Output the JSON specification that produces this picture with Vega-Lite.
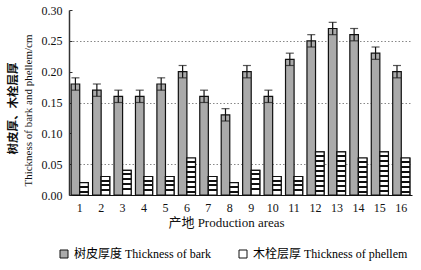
{
  "$schema": "https://vega.github.io/schema/vega-lite/v6.json",
  "width": 343,
  "height": 185,
  "autosize": {"type": "none"},
  "padding": {"left": 69, "top": 10, "right": 9, "bottom": 75},
  "background": "white",
  "config": {
    "font": "Liberation Serif, Noto Sans CJK SC",
    "view": {"stroke": null},
    "axis": {"labelColor": "#111", "titleColor": "#111", "titleFontWeight": "normal"}
  },
  "resolve": {"axis": {"y": "independent"}},
  "data": {
    "values": [
      {"area": "1", "bark": 0.18, "phellem": 0.02, "lo": 0.17, "hi": 0.19},
      {"area": "2", "bark": 0.17, "phellem": 0.03, "lo": 0.16, "hi": 0.18},
      {"area": "3", "bark": 0.16, "phellem": 0.04, "lo": 0.15, "hi": 0.17},
      {"area": "4", "bark": 0.16, "phellem": 0.03, "lo": 0.15, "hi": 0.17},
      {"area": "5", "bark": 0.18, "phellem": 0.03, "lo": 0.17, "hi": 0.19},
      {"area": "6", "bark": 0.20, "phellem": 0.06, "lo": 0.19, "hi": 0.21},
      {"area": "7", "bark": 0.16, "phellem": 0.03, "lo": 0.15, "hi": 0.17},
      {"area": "8", "bark": 0.13, "phellem": 0.02, "lo": 0.12, "hi": 0.14},
      {"area": "9", "bark": 0.20, "phellem": 0.04, "lo": 0.19, "hi": 0.21},
      {"area": "10", "bark": 0.16, "phellem": 0.03, "lo": 0.15, "hi": 0.17},
      {"area": "11", "bark": 0.22, "phellem": 0.03, "lo": 0.21, "hi": 0.23},
      {"area": "12", "bark": 0.25, "phellem": 0.07, "lo": 0.24, "hi": 0.26},
      {"area": "13", "bark": 0.27, "phellem": 0.07, "lo": 0.26, "hi": 0.28},
      {"area": "14", "bark": 0.26, "phellem": 0.06, "lo": 0.25, "hi": 0.27},
      {"area": "15", "bark": 0.23, "phellem": 0.07, "lo": 0.22, "hi": 0.24},
      {"area": "16", "bark": 0.20, "phellem": 0.06, "lo": 0.19, "hi": 0.21}
    ]
  },
  "encoding": {
    "x": {
      "field": "area",
      "type": "ordinal",
      "sort": null,
      "scale": {"paddingInner": 0.2, "paddingOuter": 0.1},
      "axis": {
        "labelAngle": 0,
        "ticks": false,
        "domainColor": "#111",
        "domainWidth": 1.2,
        "labelFontSize": 12,
        "labelPadding": 7,
        "title": "产地  Production areas",
        "titleFontSize": 13,
        "titlePadding": 3,
        "titleX": 157
      }
    }
  },
  "layer": [
    {
      "mark": {"type": "bar", "stroke": "#111", "strokeWidth": 1.2},
      "encoding": {
        "xOffset": {"datum": "bark", "type": "nominal", "scale": {"domain": ["bark", "phellem"]}},
        "y": {
          "field": "bark",
          "type": "quantitative",
          "scale": {"domain": [0, 0.3]},
          "axis": {
            "orient": "left",
            "values": [0, 0.05, 0.1, 0.15, 0.2, 0.25, 0.3],
            "format": ".2f",
            "labelFontSize": 12,
            "labelOverlap": false,
            "tickSize": -3,
            "tickColor": "#333",
            "labelPadding": 10,
            "domainColor": "#333",
            "domainWidth": 1.5,
            "grid": true,
            "gridColor": "#888",
            "gridDash": [1.5, 2],
            "gridOpacity": {"condition": {"test": "round(datum.value*100) % 10 == 5", "value": 1}, "value": 0},
            "title": "Thickness of bark and phellem/cm",
            "titleFontSize": 11,
            "titlePadding": 8,
            "titleY": 100
          }
        },
        "fill": {
          "datum": "树皮厚度 Thickness of bark",
          "type": "nominal",
          "scale": {"domain": ["树皮厚度 Thickness of bark", "木栓层厚 Thickness of phellem"], "range": ["#aaaaaa", "#ffffff"]},
          "legend": {
            "orient": "none",
            "legendX": -11,
            "legendY": 238,
            "direction": "horizontal",
            "title": null,
            "padding": 0,
            "symbolType": "square",
            "symbolSize": 64,
            "symbolStrokeColor": "#111",
            "symbolStrokeWidth": 1,
            "labelFontSize": 12,
            "labelOffset": 4,
            "columnPadding": 26,
            "labelLimit": 300,
            "encode": {
              "symbols": {
                "update": {
                  "fill": [
                    {"test": "indexof(datum.value, 'phellem') >= 0", "value": {"gradient": "linear", "x1": 0, "y1": 0, "x2": 0, "y2": 1, "stops": [
                      {"offset": 0, "color": "#111"}, {"offset": 0.3, "color": "#111"}, {"offset": 0.3, "color": "#fff"}, {"offset": 0.42, "color": "#fff"},
                      {"offset": 0.42, "color": "#111"}, {"offset": 0.6, "color": "#111"}, {"offset": 0.6, "color": "#fff"}, {"offset": 0.72, "color": "#fff"},
                      {"offset": 0.72, "color": "#111"}, {"offset": 1, "color": "#111"}]}},
                    {"value": "#aaaaaa"}
                  ],
                  "stroke": {"value": "#111"}
                }
              }
            }
          }
        }
      }
    },
    {
      "mark": {"type": "bar", "stroke": "#111", "strokeWidth": 1.2},
      "encoding": {
        "xOffset": {"datum": "phellem", "type": "nominal"},
        "y": {"field": "phellem", "type": "quantitative", "axis": null},
        "fill": {"datum": "木栓层厚 Thickness of phellem", "type": "nominal"}
      }
    },
    {
      "mark": {"type": "bar", "stroke": "#111", "strokeWidth": 1.2},
      "encoding": {
        "xOffset": {"datum": "phellem", "type": "nominal"},
        "y": {"field": "phellem", "type": "quantitative", "axis": null},
        "fill": {
          "condition": [
            {"test": "datum.phellem < 0.025", "value": {"gradient": "linear", "x1": 0, "y1": 0, "x2": 0, "y2": 1, "stops": [
              {"offset": 0, "color": "#fff"}, {"offset": 0.2439, "color": "#fff"}, {"offset": 0.2439, "color": "#111"}, {"offset": 0.4065, "color": "#111"},
              {"offset": 0.4065, "color": "#fff"}, {"offset": 0.6504, "color": "#fff"}, {"offset": 0.6504, "color": "#111"}, {"offset": 0.813, "color": "#111"},
              {"offset": 0.813, "color": "#fff"}, {"offset": 1, "color": "#fff"}]}},
            {"test": "datum.phellem < 0.035", "value": {"gradient": "linear", "x1": 0, "y1": 0, "x2": 0, "y2": 1, "stops": [
              {"offset": 0, "color": "#fff"}, {"offset": 0.1622, "color": "#fff"}, {"offset": 0.1622, "color": "#111"}, {"offset": 0.2703, "color": "#111"},
              {"offset": 0.2703, "color": "#fff"}, {"offset": 0.4324, "color": "#fff"}, {"offset": 0.4324, "color": "#111"}, {"offset": 0.5405, "color": "#111"},
              {"offset": 0.5405, "color": "#fff"}, {"offset": 0.7027, "color": "#fff"}, {"offset": 0.7027, "color": "#111"}, {"offset": 0.8108, "color": "#111"},
              {"offset": 0.8108, "color": "#fff"}, {"offset": 1, "color": "#fff"}]}},
            {"test": "datum.phellem < 0.05", "value": {"gradient": "linear", "x1": 0, "y1": 0, "x2": 0, "y2": 1, "stops": [
              {"offset": 0, "color": "#fff"}, {"offset": 0.1216, "color": "#fff"}, {"offset": 0.1216, "color": "#111"}, {"offset": 0.2027, "color": "#111"},
              {"offset": 0.2027, "color": "#fff"}, {"offset": 0.3243, "color": "#fff"}, {"offset": 0.3243, "color": "#111"}, {"offset": 0.4054, "color": "#111"},
              {"offset": 0.4054, "color": "#fff"}, {"offset": 0.527, "color": "#fff"}, {"offset": 0.527, "color": "#111"}, {"offset": 0.6081, "color": "#111"},
              {"offset": 0.6081, "color": "#fff"}, {"offset": 0.7297, "color": "#fff"}, {"offset": 0.7297, "color": "#111"}, {"offset": 0.8108, "color": "#111"},
              {"offset": 0.8108, "color": "#fff"}, {"offset": 1, "color": "#fff"}]}},
            {"test": "datum.phellem < 0.065", "value": {"gradient": "linear", "x1": 0, "y1": 0, "x2": 0, "y2": 1, "stops": [
              {"offset": 0, "color": "#fff"}, {"offset": 0.0811, "color": "#fff"}, {"offset": 0.0811, "color": "#111"}, {"offset": 0.1351, "color": "#111"},
              {"offset": 0.1351, "color": "#fff"}, {"offset": 0.2162, "color": "#fff"}, {"offset": 0.2162, "color": "#111"}, {"offset": 0.2703, "color": "#111"},
              {"offset": 0.2703, "color": "#fff"}, {"offset": 0.3514, "color": "#fff"}, {"offset": 0.3514, "color": "#111"}, {"offset": 0.4054, "color": "#111"},
              {"offset": 0.4054, "color": "#fff"}, {"offset": 0.4865, "color": "#fff"}, {"offset": 0.4865, "color": "#111"}, {"offset": 0.5405, "color": "#111"},
              {"offset": 0.5405, "color": "#fff"}, {"offset": 0.6216, "color": "#fff"}, {"offset": 0.6216, "color": "#111"}, {"offset": 0.6757, "color": "#111"},
              {"offset": 0.6757, "color": "#fff"}, {"offset": 0.7568, "color": "#fff"}, {"offset": 0.7568, "color": "#111"}, {"offset": 0.8108, "color": "#111"},
              {"offset": 0.8108, "color": "#fff"}, {"offset": 0.8919, "color": "#fff"}, {"offset": 0.8919, "color": "#111"}, {"offset": 0.9459, "color": "#111"},
              {"offset": 0.9459, "color": "#fff"}, {"offset": 1, "color": "#fff"}]}}
          ],
          "value": {"gradient": "linear", "x1": 0, "y1": 0, "x2": 0, "y2": 1, "stops": [
            {"offset": 0, "color": "#fff"}, {"offset": 0.0695, "color": "#fff"}, {"offset": 0.0695, "color": "#111"}, {"offset": 0.1158, "color": "#111"},
            {"offset": 0.1158, "color": "#fff"}, {"offset": 0.1853, "color": "#fff"}, {"offset": 0.1853, "color": "#111"}, {"offset": 0.2316, "color": "#111"},
            {"offset": 0.2316, "color": "#fff"}, {"offset": 0.3011, "color": "#fff"}, {"offset": 0.3011, "color": "#111"}, {"offset": 0.3474, "color": "#111"},
            {"offset": 0.3474, "color": "#fff"}, {"offset": 0.417, "color": "#fff"}, {"offset": 0.417, "color": "#111"}, {"offset": 0.4633, "color": "#111"},
            {"offset": 0.4633, "color": "#fff"}, {"offset": 0.5328, "color": "#fff"}, {"offset": 0.5328, "color": "#111"}, {"offset": 0.5791, "color": "#111"},
            {"offset": 0.5791, "color": "#fff"}, {"offset": 0.6486, "color": "#fff"}, {"offset": 0.6486, "color": "#111"}, {"offset": 0.6949, "color": "#111"},
            {"offset": 0.6949, "color": "#fff"}, {"offset": 0.7644, "color": "#fff"}, {"offset": 0.7644, "color": "#111"}, {"offset": 0.8107, "color": "#111"},
            {"offset": 0.8107, "color": "#fff"}, {"offset": 0.8803, "color": "#fff"}, {"offset": 0.8803, "color": "#111"}, {"offset": 0.9266, "color": "#111"},
            {"offset": 0.9266, "color": "#fff"}, {"offset": 1, "color": "#fff"}]}
        }
      }
    },
    {
      "mark": {"type": "rule", "color": "#111", "strokeWidth": 1.2},
      "encoding": {
        "xOffset": {"datum": "bark", "type": "nominal"},
        "y": {
          "field": "lo",
          "type": "quantitative",
          "axis": {
            "orient": "left",
            "labels": false,
            "ticks": false,
            "domain": false,
            "grid": false,
            "title": "树皮厚、木栓层厚",
            "titleFontSize": 11.5,
            "titleFontWeight": "bold",
            "titlePadding": 51,
            "titleY": 98
          }
        },
        "y2": {"field": "hi"}
      }
    },
    {
      "mark": {"type": "tick", "color": "#111", "size": 8, "thickness": 1.2},
      "encoding": {
        "xOffset": {"datum": "bark", "type": "nominal"},
        "y": {"field": "hi", "type": "quantitative", "axis": null}
      }
    },
    {
      "mark": {"type": "tick", "color": "#111", "size": 8, "thickness": 1.2},
      "encoding": {
        "xOffset": {"datum": "bark", "type": "nominal"},
        "y": {"field": "lo", "type": "quantitative", "axis": null}
      }
    }
  ]
}
